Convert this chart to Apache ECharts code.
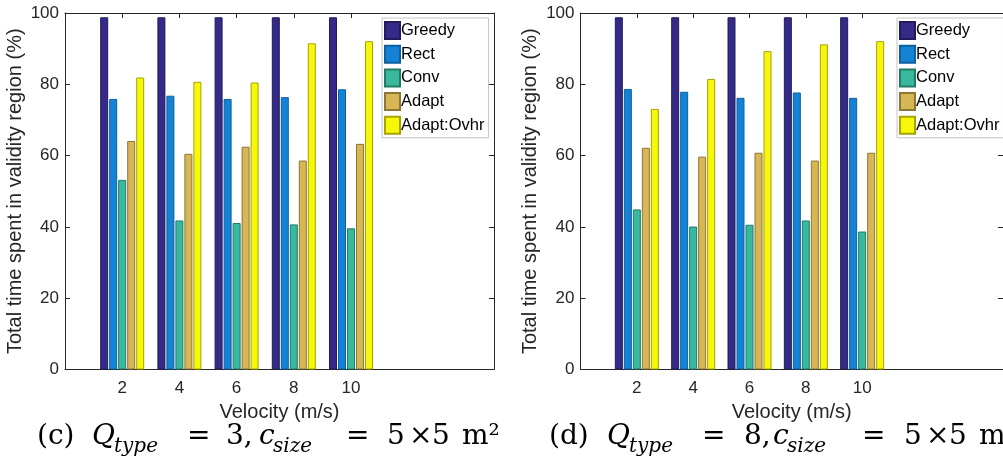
<!DOCTYPE html>
<html>
<head>
<meta charset="utf-8">
<script src="https://cdn.jsdelivr.net/npm/echarts@6/dist/echarts.min.js"></script>
<style>
html,body{margin:0;padding:0;background:#fff;}
#c{width:1003px;height:465px;}
</style>
</head>
<body>
<div id="c"></div>
<script>
// ---- data ----
const velocities = [2, 4, 6, 8, 10];
const seriesNames = ['Greedy', 'Rect', 'Conv', 'Adapt', 'Adapt:Ovhr'];
const yTicks = [0, 20, 40, 60, 80, 100];
// (c) Q_type = 3
const greedyC = [98.8, 98.8, 98.8, 98.8, 98.8];
const rectC   = [75.9, 76.8, 75.9, 76.4, 78.6];
const convC   = [53.2, 41.8, 41.1, 40.7, 39.6];
const adaptC  = [64.1, 60.5, 62.5, 58.6, 63.3];
const ovhrC   = [81.9, 80.7, 80.5, 91.5, 92.1];
// (d) Q_type = 8
const greedyD = [98.8, 98.8, 98.8, 98.8, 98.8];
const rectD   = [78.7, 77.9, 76.2, 77.7, 76.2];
const convD   = [44.9, 40.1, 40.6, 41.8, 38.7];
const adaptD  = [62.2, 59.7, 60.8, 58.6, 60.8];
const ovhrD   = [73.1, 81.5, 89.3, 91.2, 92.1];

const fills   = ['#352a87', '#1483d5', '#38b89d', '#d6b753', '#f7f70c'];
const borders = ['#201c5c', '#0d5f9f', '#217b67', '#8c7537', '#a6a300'];

const chart = echarts.init(document.getElementById('c'), null, {renderer: 'canvas'});
const FONT = 'Liberation Sans, Arial, Helvetica, sans-serif';
const AX = '#262626';

const grids = [
  {left: 65, top: 13, width: 429, height: 356.5},
  {left: 580.5, top: 13, width: 429, height: 356.5}
];

const xAxes = [], yAxes = [];
grids.forEach((g, gi) => {
  xAxes.push({
    type: 'value', gridIndex: gi, min: 0, max: 15, position: 'bottom',
    name: 'Velocity (m/s)', nameLocation: 'middle', nameGap: 33,
    nameTextStyle: {fontFamily: FONT, fontSize: 20, color: AX},
    axisLine: {show: true, lineStyle: {color: AX, width: 1}},
    axisTick: {show: true, inside: true, length: 5, customValues: velocities, lineStyle: {color: AX}},
    axisLabel: {show: true, customValues: velocities, fontFamily: FONT, fontSize: 17, color: AX, margin: 10},
    splitLine: {show: false}
  });
  xAxes.push({
    type: 'value', gridIndex: gi, min: 0, max: 15, position: 'top',
    axisLine: {show: true, onZero: false, lineStyle: {color: AX, width: 1}},
    axisTick: {show: true, inside: true, length: 5, customValues: velocities, lineStyle: {color: AX}},
    axisLabel: {show: false},
    splitLine: {show: false}
  });
  yAxes.push({
    type: 'value', gridIndex: gi, min: 0, max: 100, interval: 20, position: 'left',
    name: 'Total time spent in validity region (%)', nameLocation: 'middle', nameGap: 40,
    nameTextStyle: {fontFamily: FONT, fontSize: 20, color: AX},
    axisLine: {show: true, lineStyle: {color: AX, width: 1}},
    axisTick: {show: true, inside: true, length: 5, lineStyle: {color: AX}},
    axisLabel: {show: true, fontFamily: FONT, fontSize: 17, color: AX, margin: 6},
    splitLine: {show: false}
  });
  yAxes.push({
    type: 'value', gridIndex: gi, min: 0, max: 100, interval: 20, position: 'right',
    axisLine: {show: true, onZero: false, lineStyle: {color: AX, width: 1}},
    axisTick: {show: true, inside: true, length: 5, lineStyle: {color: AX}},
    axisLabel: {show: false},
    splitLine: {show: false}
  });
});

const dataC = [greedyC, rectC, convC, adaptC, ovhrC];
const dataD = [greedyD, rectD, convD, adaptD, ovhrD];
const series = [];
[dataC, dataD].forEach((set, gi) => {
  set.forEach((vals, si) => {
    series.push({
      type: 'bar', name: seriesNames[si],
      xAxisIndex: gi * 2, yAxisIndex: gi * 2,
      barWidth: 8, barGap: '12.5%',
      itemStyle: {color: fills[si], borderColor: borders[si], borderWidth: 1},
      emphasis: {disabled: true},
      animation: false,
      data: velocities.map((v, i) => [v, vals[i]])
    });
  });
});

const legendBase = {
  orient: 'vertical', data: seriesNames,
  itemWidth: 15, itemHeight: 17, itemGap: 4.7,
  padding: [3, 4, 3, 2],
  backgroundColor: '#fff', borderColor: '#c4c4c4', borderWidth: 1,
  textStyle: {fontFamily: FONT, fontSize: 16.5, lineHeight: 17, color: '#000', padding: [0, 0, 0, -4]},
  selectedMode: false, icon: 'rect'
};

const serif = 'DejaVu Serif, serif';
const rich = {
  n: {fontFamily: serif, fontSize: 28, color: '#000', lineHeight: 40, verticalAlign: 'middle'},
  i: {fontFamily: serif, fontSize: 28, fontStyle: 'italic', color: '#000', lineHeight: 40, verticalAlign: 'middle'},
  s: {fontFamily: serif, fontSize: 20, fontStyle: 'italic', color: '#000', lineHeight: 16, verticalAlign: 'bottom'}
};
// build rich styles with fixed token widths for caption layout
function caption(parts) {
  const r = {};
  let txt = '';
  parts.forEach(([st, t, w], k) => {
    const key = st + k;
    r[key] = Object.assign({}, rich[st], {width: w, align: 'left'});
    txt += '{' + key + '|' + t + '}';
  });
  return {text: txt, rich: r};
}
const capC = caption([
  ['n', '(c)', 55], ['i', 'Q', 22], ['s', 'type', 73], ['n', '=', 39], ['n', '3,', 33],
  ['i', 'c', 14], ['s', 'size', 73], ['n', '=', 41], ['n', '5', 22], ['n', '×', 23], ['n', '5', 30],
  ['n', 'm²', 45]
]);
const capD = caption([
  ['n', '(d)', 58], ['i', 'Q', 22], ['s', 'type', 73], ['n', '=', 42], ['n', '8,', 29],
  ['i', 'c', 14], ['s', 'size', 75], ['n', '=', 42], ['n', '5', 22], ['n', '×', 23], ['n', '5', 30],
  ['n', 'm²', 45]
]);

chart.setOption({
  backgroundColor: '#fff',
  animation: false,
  grid: grids,
  xAxis: xAxes,
  yAxis: yAxes,
  legend: [
    Object.assign({}, legendBase, {left: 382, top: 18}),
    Object.assign({}, legendBase, {left: 897, top: 18})
  ],
  series: series,
  graphic: [
    {type: 'text', left: 37, top: 423, silent: true, style: capC},
    {type: 'text', left: 549, top: 423, silent: true, style: capD}
  ]
});
</script>
</body>
</html>
